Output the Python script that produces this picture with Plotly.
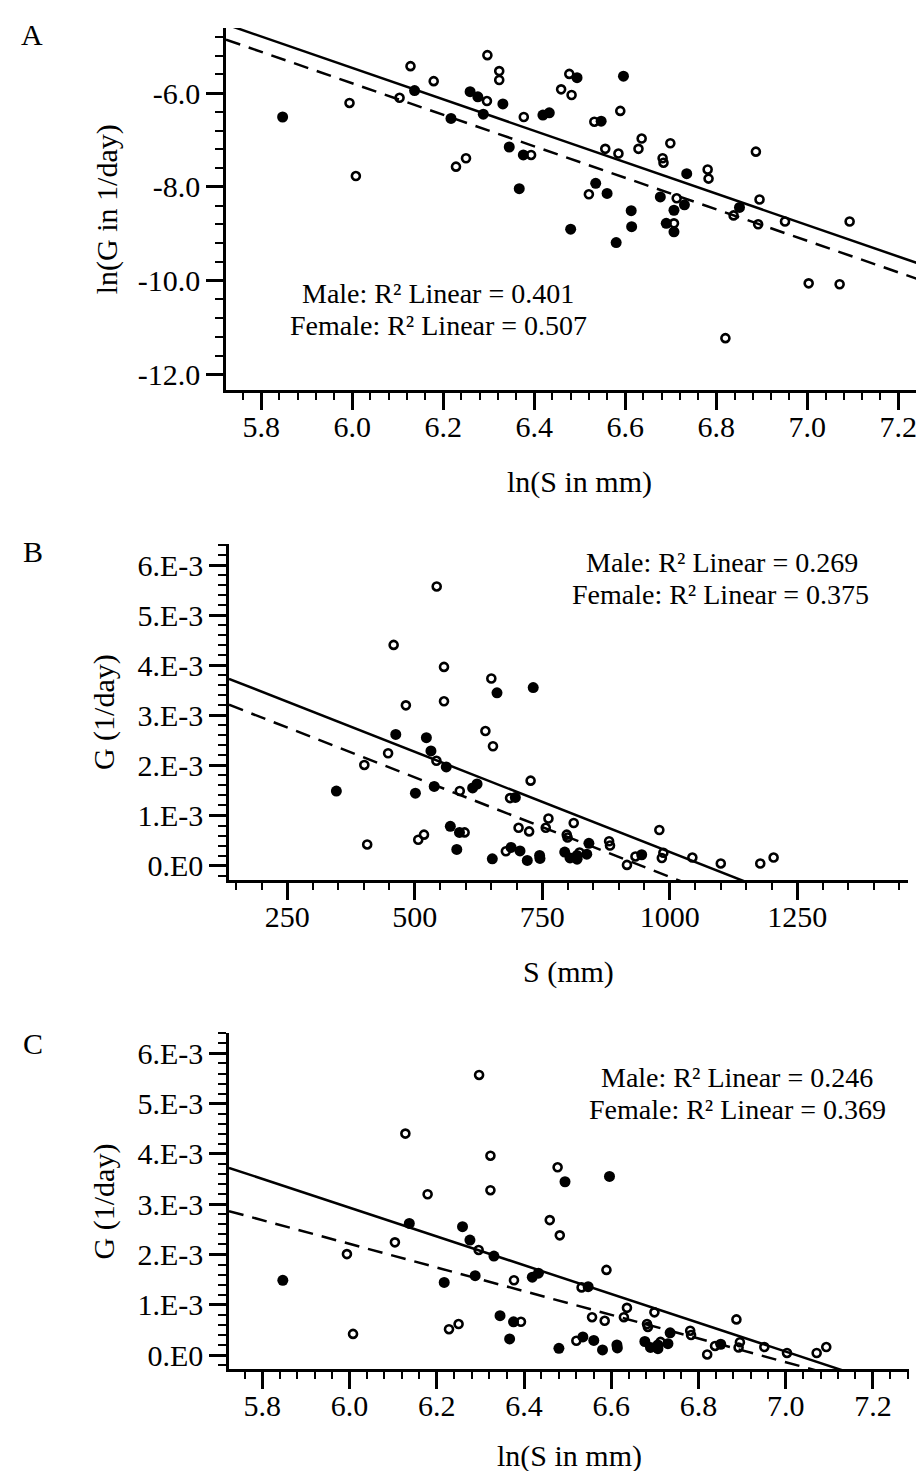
import numpy as np
import plotly.graph_objects as go

W, H = 924, 1471

# ---- data (panel A gives ln S and ln G) ----
male_lnS = [5.847, 6.137, 6.217, 6.259, 6.276, 6.288, 6.331, 6.345, 6.367, 6.376,
            6.419, 6.433, 6.480, 6.494, 6.596, 6.547, 6.535, 6.560, 6.580, 6.613,
            6.614, 6.677, 6.690, 6.707, 6.707, 6.730, 6.735, 6.851]
male_lnG = [-6.51, -5.945, -6.54, -5.97, -6.08, -6.45, -6.23, -7.15, -8.04, -7.32,
            -6.47, -6.42, -8.905, -5.67, -5.64, -6.60, -7.925, -8.14, -9.19, -8.51,
            -8.85, -8.215, -8.78, -8.96, -8.50, -8.385, -7.72, -8.44]

female_lnS = [5.994, 6.008, 6.104, 6.128, 6.179, 6.228, 6.250, 6.296, 6.297, 6.323,
              6.323, 6.377, 6.393, 6.459, 6.477, 6.482, 6.532, 6.589, 6.556, 6.585,
              6.636, 6.629, 6.699, 6.682, 6.684, 6.520, 6.713, 6.707, 6.781, 6.783,
              6.838, 6.887, 6.895, 6.892, 6.951, 7.003, 7.071, 7.093, 6.820]
female_lnG = [-6.21, -7.77, -6.10, -5.425, -5.745, -7.57, -7.39, -6.17, -5.19, -5.53,
              -5.72, -6.51, -7.32, -5.92, -5.59, -6.04, -6.61, -6.38, -7.19, -7.29,
              -6.97, -7.19, -7.07, -7.39, -7.485, -8.16, -8.245, -8.78, -7.63, -7.825,
              -8.61, -7.25, -8.27, -8.80, -8.74, -10.06, -10.08, -8.74, -11.23]

# fit lines: (intercept, slope) for [solid, dashed]
lineA = [(14.661, -3.354), (14.381, -3.362)]              # ln G vs ln S
lineB = [(4.271e-3, -4.0e-6), (3.750e-3, -3.976e-6)]      # G vs S
lineC = [(20.111e-3, -2.863e-3), (16.331e-3, -2.353e-3)]  # G vs ln S

r2_text = {
    "A": ["Male: R\u00b2 Linear = 0.401", "Female: R\u00b2 Linear = 0.507"],
    "B": ["Male: R\u00b2 Linear = 0.269", "Female: R\u00b2 Linear = 0.375"],
    "C": ["Male: R\u00b2 Linear = 0.246", "Female: R\u00b2 Linear = 0.369"],
}

yA_tickvals = [-6, -8, -10, -12]
yA_ticktext = ["-6.0", "-8.0", "-10.0", "-12.0"]
yG_tickvals = [0, 1e-3, 2e-3, 3e-3, 4e-3, 5e-3, 6e-3]
yG_ticktext = ["0.E0", "1.E-3", "2.E-3", "3.E-3", "4.E-3", "5.E-3", "6.E-3"]
xS_tickvals = [250, 500, 750, 1000, 1250]
xS_ticktext = ["250", "500", "750", "1000", "1250"]
xlnS_tickvals = [5.8, 6.0, 6.2, 6.4, 6.6, 6.8, 7.0, 7.2]
xlnS_ticktext = ["5.8", "6.0", "6.2", "6.4", "6.6", "6.8", "7.0", "7.2"]

# ---- derived quantities ----
mS = np.exp(male_lnS); fS = np.exp(female_lnS)
mG = np.exp(male_lnG); fG = np.exp(female_lnG)

rngA_x = [5.7226, 7.274]; rngA_y = [-12.34, -4.61]
rngB_x = [135.7, 1467];   rngB_y = [-0.29e-3, 6.42e-3]
rngC_x = [5.7236, 7.282]; rngC_y = [-0.285e-3, 6.40e-3]

FONT = "Liberation Serif"
FS = 30
NOTE_FS = 28

fig = go.Figure()

def add_panel(xs_m, ys_m, xs_f, ys_f, lines, xr, idx):
    xa = "x" if idx == 1 else f"x{idx}"
    ya = "y" if idx == 1 else f"y{idx}"
    fig.add_trace(go.Scatter(x=xs_m, y=ys_m, mode="markers", xaxis=xa, yaxis=ya,
                             marker=dict(symbol="circle", size=11, color="black",
                                         line=dict(width=0)), showlegend=False))
    fig.add_trace(go.Scatter(x=xs_f, y=ys_f, mode="markers", xaxis=xa, yaxis=ya,
                             marker=dict(symbol="circle-open", size=8, color="black",
                                         line=dict(width=2.6, color="black")),
                             showlegend=False))
    xx = np.array(xr)
    for (a, b), dash in zip(lines, ["solid", "15px,9px"]):
        fig.add_trace(go.Scatter(x=xx, y=a + b * xx, mode="lines", xaxis=xa, yaxis=ya,
                                 line=dict(color="black", width=2.5, dash=dash),
                                 showlegend=False, hoverinfo="skip"))

add_panel(male_lnS, male_lnG, female_lnS, female_lnG, lineA, rngA_x, 1)
add_panel(mS, mG, fS, fG, lineB, rngB_x, 2)
add_panel(male_lnS, mG, female_lnS, fG, lineC, rngC_x, 3)

def px_x(p): return p / W
def px_y(p): return 1 - p / H

common = dict(showgrid=False, zeroline=False, showline=True, linecolor="black",
              linewidth=2.5, ticks="outside", ticklen=17, tickwidth=3, tickcolor="black",
              tickfont=dict(family=FONT, size=FS, color="black"))

def xaxis(dom, rng, tv, tt, anchor, tick0, dtick):
    d = dict(common)
    d.update(domain=dom, range=rng, tickmode="array", tickvals=tv, ticktext=tt, anchor=anchor,
             ticklabelstandoff=-9,
             minor=dict(ticks="outside", ticklen=7, tickwidth=2, tickcolor="black",
                        tick0=tick0, dtick=dtick))
    return d

def yaxis(dom, rng, tv, tt, anchor, tick0, dtick):
    d = dict(common)
    d.update(domain=dom, range=rng, tickmode="array", tickvals=tv, ticktext=tt, anchor=anchor,
             minor=dict(ticks="outside", ticklen=8, tickwidth=2, tickcolor="black",
                        tick0=tick0, dtick=dtick))
    return d

fig.update_layout(
    width=W, height=H, margin=dict(l=0, r=0, t=0, b=0),
    paper_bgcolor="white", plot_bgcolor="white", showlegend=False,
    xaxis=xaxis([px_x(218), px_x(924)], rngA_x, xlnS_tickvals, xlnS_ticktext, "y", 5.8, 0.04),
    yaxis=yaxis([px_y(382.7), px_y(20)], rngA_y, yA_tickvals, yA_ticktext, "x", -12, 0.4),
    xaxis2=xaxis([px_x(221), px_x(900)], rngB_x, xS_tickvals, xS_ticktext, "y2", 150, 50),
    yaxis2=yaxis([px_y(873.3), px_y(536.7)], rngB_y, yG_tickvals, yG_ticktext, "x2", 0, 0.2e-3),
    xaxis3=xaxis([px_x(221), px_x(900.7)], rngC_x, xlnS_tickvals, xlnS_ticktext, "y3", 5.8, 0.04),
    yaxis3=yaxis([px_y(1363.3), px_y(1026.7)], rngC_y, yG_tickvals, yG_ticktext, "x3", 0, 0.2e-3),
)

ann = []
def text(t, x, y, angle=0, size=FS):
    ann.append(dict(text=t, x=px_x(x), y=px_y(y), xref="paper", yref="paper",
                    showarrow=False, xanchor="center", yanchor="middle", textangle=angle,
                    font=dict(family=FONT, size=size, color="black")))

# panel letters
text("A", 24, 27); text("B", 25, 544); text("C", 25, 1037)
# axis titles
text("ln(G in 1/day)", 99, 201.5, -90)
text("ln(S in mm)", 571, 475)
text("G (1/day)", 96, 705, -90)
text("S (mm)", 560, 965)
text("G (1/day)", 96, 1195, -90)
text("ln(S in mm)", 561, 1450)
# R^2 notes
text(r2_text["A"][0], 430, 285.5, size=NOTE_FS); text(r2_text["A"][1], 430, 317.5, size=NOTE_FS)
text(r2_text["B"][0], 714, 555, size=NOTE_FS); text(r2_text["B"][1], 712, 587, size=NOTE_FS)
text(r2_text["C"][0], 729, 1070.5, size=NOTE_FS); text(r2_text["C"][1], 729, 1102.5, size=NOTE_FS)

fig.update_layout(annotations=ann)
fig.write_html("out.html")
